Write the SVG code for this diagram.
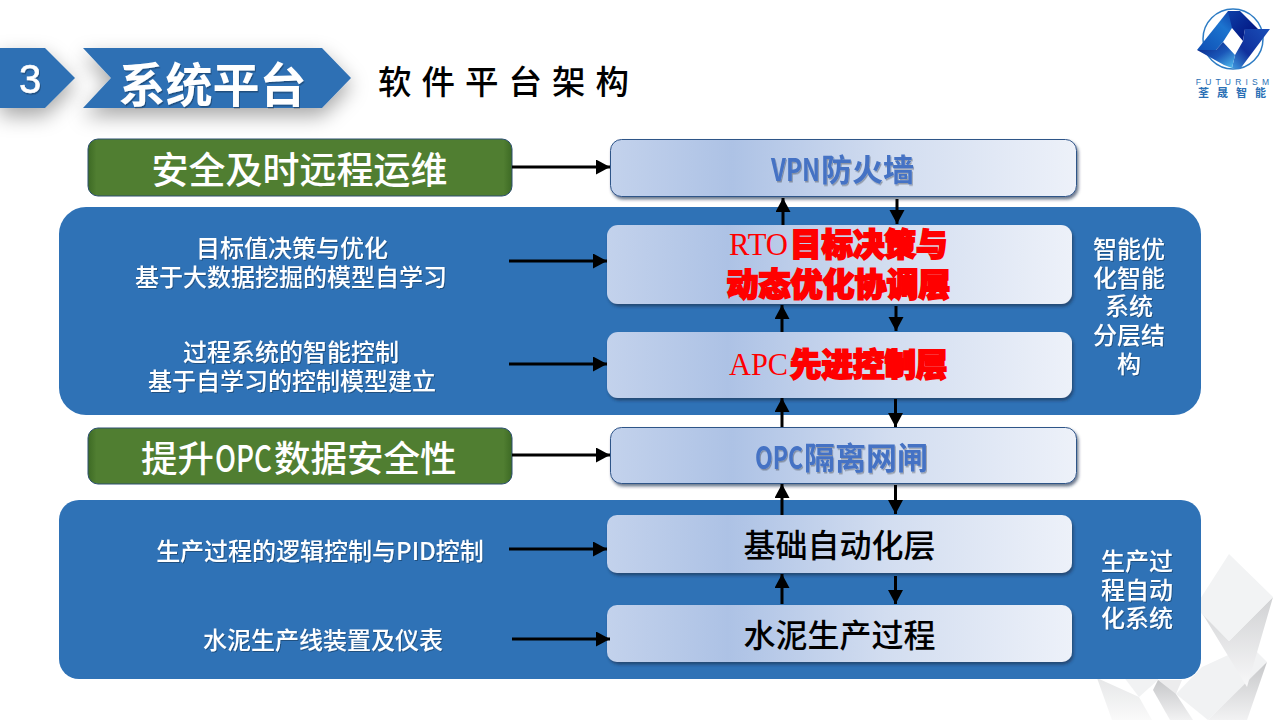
<svg xmlns="http://www.w3.org/2000/svg" width="1280" height="720" viewBox="0 0 1280 720">
<style>
text{font-family:"Noto Sans CJK SC","Noto Sans",sans-serif;text-anchor:middle}
.pane{fill:#2f72b6}
.green{fill:url(#gGreen);stroke:#2c4f70;stroke-width:1}
.layer{fill:url(#gLayer);filter:url(#sh)}
.net{stroke:#2f5488;stroke-width:1}
.wt{fill:#fff;font-size:24px;font-weight:500;filter:url(#ts)}
.gt{fill:#fff;font-size:36.500px;font-weight:500}
.bt{fill:#000;font-size:32px;font-weight:500}
.nt{fill:#4472c4;font-size:31px;font-weight:700;filter:url(#ts2)}
.rl{fill:#f00;font-family:"Liberation Serif",serif;font-size:32px;font-weight:400;stroke:none}
.rt{fill:#f00;stroke:#f00;stroke-width:1.800px;font-size:31.500px;font-weight:900}
.st{text-anchor:start}
.c{stroke:#000;stroke-width:3;fill:none;marker-end:url(#ah)}
</style>
<defs>
<linearGradient id="gLayer" x1="0" y1="0" x2="1" y2="0"><stop offset="0" stop-color="#c3d2ec"/><stop offset=".26" stop-color="#adc2e5"/><stop offset=".6" stop-color="#d2ddf0"/><stop offset="1" stop-color="#edf1f9"/></linearGradient>
<linearGradient id="gGreen" x1="0" y1="0" x2="1" y2="0"><stop offset="0" stop-color="#3d6a24"/><stop offset=".02" stop-color="#507e31"/><stop offset=".98" stop-color="#507e31"/><stop offset="1" stop-color="#3d6a24"/></linearGradient>
<linearGradient id="gm" x1="0" y1="0" x2="0" y2="1"><stop offset="0" stop-color="#c6c7c9"/><stop offset="1" stop-color="#f2f2f3"/></linearGradient>
<linearGradient id="gm2" x1="0" y1="0" x2="0" y2="1"><stop offset="0" stop-color="#d0d1d3"/><stop offset="1" stop-color="#f8f8f9"/></linearGradient>
<linearGradient id="gm3" x1="0" y1="0" x2="0" y2="1"><stop offset="0" stop-color="#e6e7e8"/><stop offset="1" stop-color="#fafafa"/></linearGradient>
<linearGradient id="lg1" x1="0" y1="1" x2="1" y2="0"><stop offset="0" stop-color="#0f4fb4"/><stop offset=".6" stop-color="#1c74cf"/><stop offset="1" stop-color="#0c2f9e"/></linearGradient>
<linearGradient id="lg3" x1="0" y1="0" x2="1" y2="1"><stop offset="0" stop-color="#0d3fa8"/><stop offset="1" stop-color="#000c78"/></linearGradient>
<linearGradient id="lg2" x1="1" y1="0" x2="0" y2="1"><stop offset="0" stop-color="#1a4fb8"/><stop offset=".6" stop-color="#10309c"/><stop offset="1" stop-color="#3f9ae0"/></linearGradient>
<linearGradient id="lg4" x1="0" y1="0" x2="1" y2="1"><stop offset="0" stop-color="#08207f"/><stop offset=".55" stop-color="#1a56b8"/><stop offset="1" stop-color="#55c4f2"/></linearGradient>
<filter id="sh" x="-5%" y="-10%" width="110%" height="125%"><feDropShadow dx="1.500" dy="2.500" stdDeviation="1.600" flood-color="#1c2f4f" flood-opacity=".65"/></filter>
<filter id="hs" x="-20%" y="-30%" width="140%" height="190%"><feDropShadow dx="0" dy="8" stdDeviation="10" flood-color="#000" flood-opacity=".35"/></filter>
<filter id="ts" x="-5%" y="-20%" width="110%" height="140%"><feDropShadow dx="1" dy="1" stdDeviation=".5" flood-color="#000" flood-opacity=".3"/></filter>
<filter id="ts2" x="-5%" y="-20%" width="110%" height="140%"><feDropShadow dx="1" dy="1.500" stdDeviation=".6" flood-color="#000" flood-opacity=".3"/></filter>
<marker id="ah" markerUnits="userSpaceOnUse" markerWidth="16" markerHeight="16" refX="14" refY="7.500" orient="auto"><path d="M0 0L14 7.500L0 15Z" fill="#000"/></marker>
</defs>
<rect width="1280" height="720" fill="#fff"/>

<g id="decor">
<polygon points="1097,678 1139,697 1152,720 1112,720" fill="url(#gm3)"/>
<polygon points="1120,672 1158,672 1158,680 1139,697" fill="#f1f2f3"/>
<polygon points="1158,680 1182,680 1176,694 1164,690" fill="#ececed"/>
<polygon points="1158,680 1176,694 1193,720 1170,720 1153,690" fill="url(#gm)"/>
<polygon points="1202,667 1250,645 1267,662 1208,720 1176,694" fill="#f1f2f3"/>
<polygon points="1267,662 1208,720 1247,720" fill="url(#gm)"/>
<polygon points="1273,597 1229,641 1202,613 1247,687" fill="url(#gm2)"/>
<polygon points="1229,554 1273,597 1229,641 1195,607" fill="#f2f3f4"/>
</g>

<g id="header">
<polygon points="0,48 45,48 75,78 45,108 0,108" fill="#2e70b4" filter="url(#hs)"/>
<polygon points="83,48 322,48 351,78 322,108 83,108 111,78" fill="#2e70b4" filter="url(#hs)"/>
<text x="30" y="93" fill="#fff" stroke="#fff" stroke-width=".6" font-size="40" style="font-family:'Liberation Sans',sans-serif;filter:url(#ts2)">3</text>
<text x="212.500" y="102" fill="#fff" font-size="47" font-weight="700" style="filter:url(#ts2)">系统平台</text>
<text x="508.500" y="94" fill="#000" font-size="33.500" font-weight="500" letter-spacing="10">软件平台架构</text>
</g>

<g id="logo">
<circle cx="1233" cy="39" r="30" fill="none" stroke="#2d7cc4" stroke-width="1.500"/>
<polygon points="1197,50 1228,11 1240,11 1232,28 1223,42 1216,50" fill="url(#lg1)"/>
<polygon points="1228,11 1240,11 1258,29 1245,29 1243,41 1232,28" fill="url(#lg3)"/>
<polygon points="1270,29 1240,69 1232,68 1235,55 1243,41 1245,29" fill="url(#lg2)"/>
<polygon points="1197,50 1216,50 1223,42 1235,55 1232,68 1224,65" fill="url(#lg4)"/>
<text x="1234.500" y="85" fill="#2a6fb5" font-size="8.500" letter-spacing="4.200" style="font-family:'Liberation Sans',sans-serif">FUTURISM</text>
<text x="1236" y="97" fill="#2a6fb5" font-size="11" font-weight="700" letter-spacing="8">荃晟智能</text>
</g>

<g id="panel-upper"><rect class="pane" x="59" y="207" width="1142" height="208" rx="27"/></g>
<g id="panel-lower"><rect class="pane" x="59" y="500" width="1142" height="179" rx="20"/></g>

<g id="green-remote"><rect class="green" x="88" y="139" width="424" height="57" rx="10"/><text class="gt" style="font-size:37px" x="299.500" y="184">安全及时远程运维</text></g>
<g id="green-opc"><rect class="green" x="88" y="428" width="424" height="56" rx="10"/><text class="gt" y="472"><tspan class="st" x="141">提升</tspan><tspan class="st" x="215" textLength="57" lengthAdjust="spacingAndGlyphs">OPC</tspan><tspan class="st" x="274">数据安全性</tspan></text></g>

<g id="label-rto"><text class="wt"><tspan x="292" y="257">目标值决策与优化</tspan><tspan x="291" y="286">基于大数据挖掘的模型自学习</tspan></text></g>
<g id="label-apc"><text class="wt"><tspan x="291" y="361">过程系统的智能控制</tspan><tspan x="292" y="390">基于自学习的控制模型建立</tspan></text></g>
<g id="label-base"><text class="wt" x="320" y="560">生产过程的逻辑控制与PID控制</text></g>
<g id="label-plant"><text class="wt" x="323" y="649">水泥生产线装置及仪表</text></g>

<g id="side-upper"><text class="wt"><tspan x="1129" y="258">智能优</tspan><tspan x="1129" y="287">化智能</tspan><tspan x="1129" y="315">系统</tspan><tspan x="1129" y="344">分层结</tspan><tspan x="1129" y="373">构</tspan></text></g>
<g id="side-lower"><text class="wt"><tspan x="1137" y="570">生产过</tspan><tspan x="1137" y="599">程自动</tspan><tspan x="1137" y="627">化系统</tspan></text></g>

<g id="node-vpn"><rect class="layer net" x="610.500" y="139.500" width="466" height="57" rx="11"/><text class="nt" y="181"><tspan class="st" x="771" textLength="49" lengthAdjust="spacingAndGlyphs">VPN</tspan><tspan class="st" x="821">防火墙</tspan></text></g>
<g id="node-rto"><rect class="layer" x="607" y="225" width="465" height="79" rx="11"/><text class="rt"><tspan class="rl st" x="729" y="255" textLength="59" lengthAdjust="spacingAndGlyphs">RTO</tspan><tspan class="st" x="790" y="256">目标决策与</tspan><tspan x="838.500" y="296" style="font-size:32px">动态优化协调层</tspan></text></g>
<g id="node-apc"><rect class="layer" x="607" y="332" width="465" height="66" rx="11"/><text class="rt" y="376"><tspan class="rl st" x="729" y="375" textLength="59" lengthAdjust="spacingAndGlyphs">APC</tspan><tspan class="st" x="790" y="376">先进控制层</tspan></text></g>
<g id="node-opc"><rect class="layer net" x="610.500" y="427.500" width="466" height="56" rx="11"/><text class="nt" y="469"><tspan class="st" x="755" textLength="48" lengthAdjust="spacingAndGlyphs">OPC</tspan><tspan class="st" x="804">隔离网闸</tspan></text></g>
<g id="node-base"><rect class="layer" x="607" y="515" width="465" height="58" rx="10"/><text class="bt" x="839.500" y="557">基础自动化层</text></g>
<g id="node-plant"><rect class="layer" x="607" y="605" width="465" height="57" rx="10"/><text class="bt" x="839.500" y="647">水泥生产过程</text></g>

<g id="connectors">
<path class="c" d="M512 167H610"/>
<path class="c" d="M509 261H607"/>
<path class="c" d="M509 364H607"/>
<path class="c" d="M512 455H610"/>
<path class="c" d="M509 549H607"/>
<path class="c" d="M512 639H610"/>
<path class="c" d="M783 225V198"/>
<path class="c" d="M897 199V224"/>
<path class="c" d="M782 332V305"/>
<path class="c" d="M896 306V331"/>
<path class="c" d="M782 427V398"/>
<path class="c" d="M895.500 399V427"/>
<path class="c" d="M782 515V484"/>
<path class="c" d="M895.500 485V514"/>
<path class="c" d="M782 604V574"/>
<path class="c" d="M895.500 576V604"/>
</g>
</svg>
